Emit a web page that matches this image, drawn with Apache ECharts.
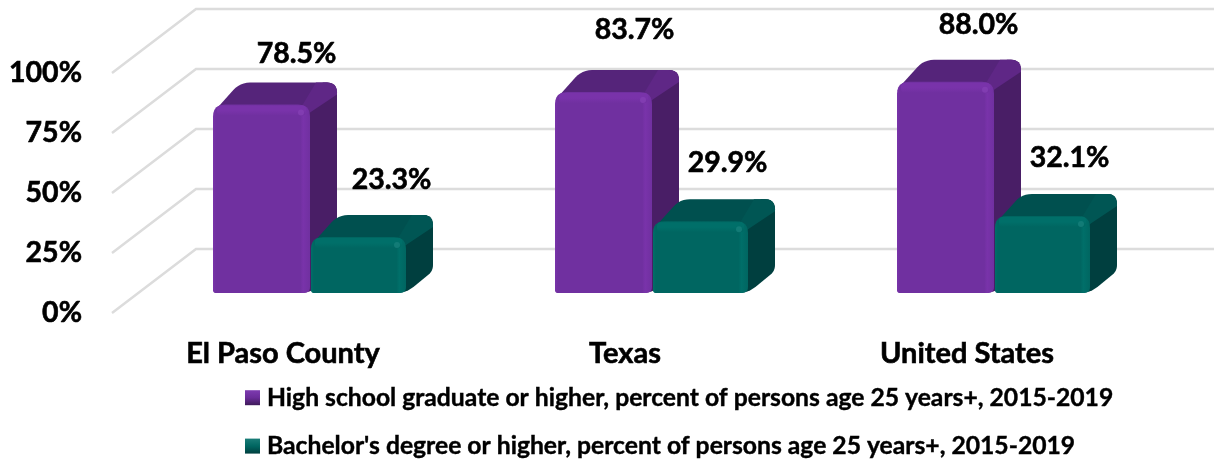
<!DOCTYPE html>
<html>
<head>
<meta charset="utf-8">
<title>Educational attainment</title>
<script src="https://cdn.jsdelivr.net/npm/echarts@6/dist/echarts.min.js"></script>
<style>
  html, body { margin: 0; padding: 0; background: #fff; }
  #chart { width: 1214px; height: 460px; }
</style>
</head>
<body>
<div id="chart"></div>
<script>
// values
var categories = ['El Paso County', 'Texas', 'United States'];
var highSchool = [78.5, 83.7, 88.0];
var bachelors = [23.3, 29.9, 32.1];
var gridTicks = [0, 25, 50, 75, 100];

var highSchoolName = 'High school graduate or higher, percent of persons age 25 years+, 2015-2019';
var bachelorsName = "Bachelor's degree or higher, percent of persons age 25 years+, 2015-2019";

// pseudo 3d settings
var FONT = 'Lato, "Open Sans", sans-serif';
var WALL_DX = 84, WALL_DY = 64;   // floor depth for the grid lines
var LIFT = 20;                    // bars stand this far behind the front edge
var BAR_DX = 27, BAR_DY = 22;     // bar depth

// hand placed labels in the original, so small nudges per label
var highSchoolNudge = [[5, 7], [1, -4], [3, 1]];
var bachelorsNudge = [[3, 1], [-3, 0], [-3, 0]];

var purple = { front: '#7030a0', light: '#8440b4', edge: '#7933aa', top: '#55247a', topEdge: '#5f2786', side: '#491e66' };
var teal = { front: '#006661', light: '#16807a', edge: '#006f69', top: '#00504f', topEdge: '#005654', side: '#003f3f' };

// turns a polygon into one with rounded corners
function roundPoly(pts, radii) {
  var out = [];
  for (var i = 0; i < pts.length; i++) {
    var p = pts[i], a = pts[(i + pts.length - 1) % pts.length], b = pts[(i + 1) % pts.length];
    var r = radii[i];
    var la = Math.hypot(a[0] - p[0], a[1] - p[1]), lb = Math.hypot(b[0] - p[0], b[1] - p[1]);
    var s = [p[0] + (a[0] - p[0]) * r / la, p[1] + (a[1] - p[1]) * r / la];
    var e = [p[0] + (b[0] - p[0]) * r / lb, p[1] + (b[1] - p[1]) * r / lb];
    for (var k = 0; k <= 6; k++) {
      var t = k / 6;
      out.push([
        (1 - t) * (1 - t) * s[0] + 2 * t * (1 - t) * p[0] + t * t * e[0],
        (1 - t) * (1 - t) * s[1] + 2 * t * (1 - t) * p[1] + t * t * e[1]
      ]);
    }
  }
  return out;
}

function linear(x2, y2, stops) {
  return new echarts.graphic.LinearGradient(0, 0, x2, y2, stops.map(function (s) {
    return { offset: s[0], color: s[1] };
  }));
}

function barRenderer(pal, xOffset, barWidth, nudges) {
  return function (params, api) {
    var i = api.value(0), v = api.value(1);
    var top = api.coord([i, v]), base = api.coord([i, 0]);
    var x1 = top[0] + xOffset, x2 = x1 + barWidth;
    var yTop = top[1] - LIFT, yBase = base[1] - LIFT;
    var nudge = nudges[i];

    var side = roundPoly([
      [x2 - 14, yTop], [x2 - 14 + BAR_DX, yTop - BAR_DY],
      [x2 + BAR_DX, yTop - BAR_DY], [x2 + BAR_DX, yBase - BAR_DY],
      [x2, yBase], [x2 - 14, yBase]
    ], [0, 0, 10, 6, 10, 0]);
    var topFace = roundPoly([
      [x1, yTop + 8], [x1 + BAR_DX, yTop - BAR_DY],
      [x2 + BAR_DX, yTop - BAR_DY], [x2, yTop + 8]
    ], [8, 10, 10, 0]);
    var topBevel = roundPoly([
      [x2 - 12, yTop + 8], [x2 + 6, yTop - BAR_DY],
      [x2 + BAR_DX, yTop - BAR_DY], [x2 + BAR_DX, yTop - BAR_DY + 12], [x2, yTop + 8]
    ], [0, 0, 10, 0, 0]);
    var front = roundPoly([
      [x1, yTop], [x2, yTop], [x2, yBase], [x1, yBase]
    ], [12, 12, 6, 3]);

    return {
      type: 'group',
      children: [
        { type: 'polygon', shape: { points: side }, style: { fill: pal.side } },
        { type: 'polygon', shape: { points: topFace }, style: { fill: pal.top } },
        { type: 'polygon', shape: { points: topBevel }, style: { fill: pal.topEdge } },
        {
          type: 'polygon', shape: { points: front },
          style: {
            fill: linear(1, 0, [
              [0, pal.edge], [0.03, pal.front], [0.9, pal.front],
              [0.93, pal.edge], [1, pal.front]
            ])
          }
        },
        // lit edge along the top of the front face
        {
          type: 'rect',
          shape: { x: x1 + 4, y: yTop + 1, width: barWidth - 8, height: 10, r: 4 },
          style: { fill: linear(0, 1, [[0, pal.edge], [0.5, pal.edge], [1, pal.front]]) }
        },
        { type: 'circle', shape: { cx: x2 - 9, cy: yTop + 8, r: 3 }, style: { fill: pal.light, opacity: 0.8 } },
        {
          type: 'text',
          style: {
            text: v.toFixed(1) + '%',
            x: x1 + barWidth / 2 + 30 + nudge[0],
            y: yTop - BAR_DY - 36 + nudge[1],
            align: 'center', verticalAlign: 'middle',
            font: 'bold 28.5px ' + FONT, fill: '#000',
            stroke: '#000', lineWidth: 0.6
          }
        }
      ]
    };
  };
}

function gridRenderer(params, api) {
  var y = api.coord([0, api.value(0)])[1];
  var left = params.coordSys.x, right = left + params.coordSys.width;
  return {
    type: 'polyline',
    shape: { points: [[left, y], [left + WALL_DX, y - WALL_DY], [right + WALL_DX, y - WALL_DY]] },
    style: { fill: null, stroke: '#dcdcdc', lineWidth: 2.5 }
  };
}

var chart = echarts.init(document.getElementById('chart'));
chart.setOption({
  animation: false,
  backgroundColor: '#fff',
  grid: { left: 112, top: 73, width: 1026, height: 240 },
  xAxis: {
    type: 'category',
    data: categories,
    axisLine: { show: false },
    axisTick: { show: false },
    axisLabel: {
      color: '#000', fontFamily: FONT, fontWeight: 'bold', fontSize: 29, margin: 26,
      textBorderColor: '#000', textBorderWidth: 0.6
    }
  },
  yAxis: {
    type: 'value',
    min: 0,
    max: 100,
    interval: 25,
    axisLine: { show: false },
    axisTick: { show: false },
    splitLine: { show: false },
    axisLabel: {
      color: '#000', fontFamily: FONT, fontWeight: 'bold', fontSize: 28.5, margin: 30,
      textBorderColor: '#000', textBorderWidth: 0.6,
      padding: [3, 0, 0, 0],
      formatter: '{value}%'
    }
  },
  legend: {
    left: 245,
    top: 385,
    height: 75,
    padding: 0,
    orient: 'vertical',
    itemWidth: 15,
    itemHeight: 15,
    itemGap: 23,
    selectedMode: false,
    textStyle: {
      color: '#000', fontFamily: FONT, fontWeight: 'bold', fontSize: 24.7,
      textBorderColor: '#000', textBorderWidth: 0.4,
      padding: [0, 0, 0, 2]
    },
    data: [
      { name: highSchoolName, icon: 'rect', itemStyle: { color: linear(0, 1, [[0, '#7d3bb0'], [0.5, '#6a2c99'], [1, '#3e1a58']]) } },
      { name: bachelorsName, icon: 'rect', itemStyle: { color: linear(0, 1, [[0, '#1a7d78'], [0.5, '#006661'], [1, '#003f3f']]) } }
    ]
  },
  series: [
    {
      name: 'grid',
      type: 'custom',
      silent: true,
      renderItem: gridRenderer,
      encode: { y: 0 },
      data: gridTicks.map(function (t) { return [t]; })
    },
    {
      name: highSchoolName,
      type: 'custom',
      renderItem: barRenderer(purple, -70, 97, highSchoolNudge),
      encode: { x: 0, y: 1 },
      itemStyle: { color: purple.front },
      data: highSchool.map(function (v, i) { return [i, v]; })
    },
    {
      name: bachelorsName,
      type: 'custom',
      renderItem: barRenderer(teal, 28, 95, bachelorsNudge),
      encode: { x: 0, y: 1 },
      itemStyle: { color: teal.front },
      data: bachelors.map(function (v, i) { return [i, v]; })
    }
  ]
});
</script>
</body>
</html>
